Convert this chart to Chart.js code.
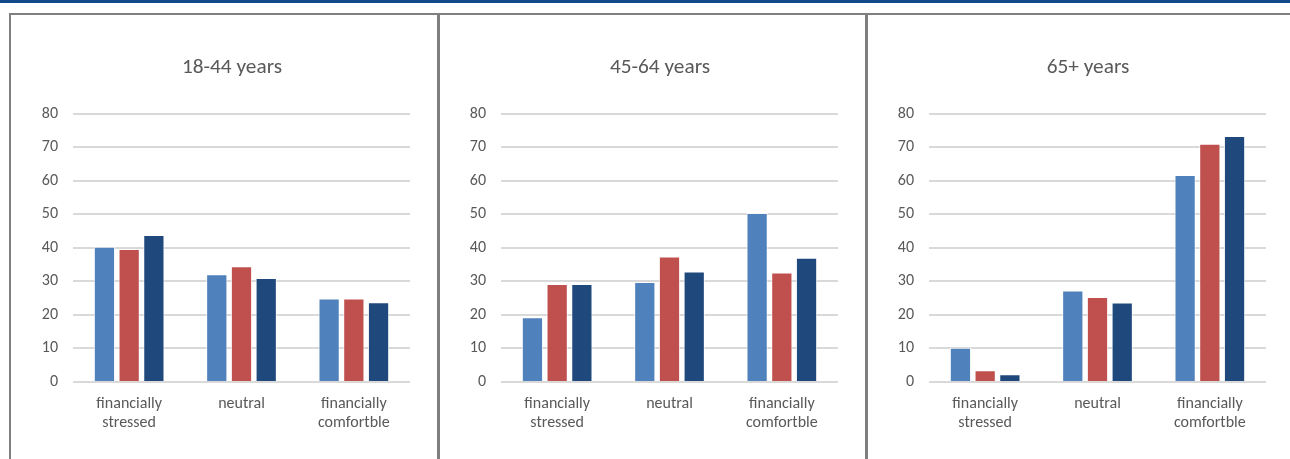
<!DOCTYPE html>
<html>
<head>
<meta charset="utf-8">
<script src="https://cdn.jsdelivr.net/npm/chart.js@4"></script>
<style>
  body { margin: 0; background: #fff; width: 1290px; height: 459px; overflow: hidden; position: relative; }
  #topbar { position: absolute; left: 0; top: 0; width: 1290px; height: 3px; background: #114a8b; }
  .panel { position: absolute; top: 13px; width: 427px; height: 460px; border: 2px solid #7f7f7f; box-sizing: content-box; }
  .panel canvas { position: absolute; left: 0; top: 1px; }
</style>
</head>
<body>
<div id="topbar"></div>
<div class="panel" style="left:9px"><canvas id="g1" width="427" height="444"></canvas></div>
<div class="panel" style="left:437px"><canvas id="g2" width="427" height="444"></canvas></div>
<div class="panel" style="left:865px"><canvas id="g3" width="427" height="444"></canvas></div>
<script>
const categorias = [["financially", "stressed"], "neutral", ["financially", "comfortble"]];
const titulos = ["18-44 years", "45-64 years", "65+ years"];

// one array per series, per age group
const azul1 = [40.3, 32.1, 24.9];
const vermelho1 = [39.6, 34.5, 24.9];
const escuro1 = [43.8, 31.0, 23.8];

const azul2 = [19.3, 29.8, 50.4];
const vermelho2 = [29.2, 37.4, 32.6];
const escuro2 = [29.2, 32.9, 37.0];

const azul3 = [10.2, 27.3, 61.7];
const vermelho3 = [3.5, 25.3, 71.0];
const escuro3 = [2.3, 23.7, 73.3];

const cores = ["#4f81bd", "#c0504d", "#1f497d"];
const fonte = "Carlito, Lato, 'Open Sans', sans-serif";

// title sits a bit right of the canvas centre in the original
const deslocaTitulo = {
  id: "deslocaTitulo",
  afterLayout(chart) {
    if (chart.titleBlock) chart.titleBlock.left += 43;
  },
};

function criarGrafico(id, titulo, series) {
  const ctx = document.getElementById(id);
  new Chart(ctx, {
    type: "bar",
    data: {
      labels: categorias,
      datasets: series.map((valores, i) => ({
        data: valores,
        backgroundColor: cores[i],
        borderColor: "rgba(255,255,255,0.8)",
        borderWidth: 1,
        categoryPercentage: 0.66,
        barPercentage: 0.86,
      })),
    },
    plugins: [deslocaTitulo],
    options: {
      responsive: false,
      animation: false,
      layout: { padding: { left: 0, right: 28, top: 0, bottom: 0 } },
      plugins: {
        legend: { display: false },
        tooltip: { enabled: false },
        title: {
          display: true,
          text: titulo,
          color: "#595959",
          font: { family: fonte, size: 21.3, weight: "normal", lineHeight: 1.2 },
          padding: { top: 39, bottom: 33 },
        },
      },
      scales: {
        x: {
          grid: { display: false },
          border: { display: false },
          ticks: {
            color: "#595959",
            font: { family: fonte, size: 16, lineHeight: 1.2 },
            padding: 4,
            maxRotation: 0,
          },
          afterFit: (scale) => { scale.height = 78; },
        },
        y: {
          min: 0,
          max: 80,
          border: { display: false },
          grid: { color: "#d9d9d9", lineWidth: 2, drawTicks: false },
          ticks: {
            stepSize: 10,
            color: "#595959",
            font: { family: fonte, size: 16 },
            padding: 15,
          },
          afterFit: (scale) => { scale.width = 62; },
        },
      },
    },
  });
}

criarGrafico("g1", titulos[0], [azul1, vermelho1, escuro1]);
criarGrafico("g2", titulos[1], [azul2, vermelho2, escuro2]);
criarGrafico("g3", titulos[2], [azul3, vermelho3, escuro3]);
</script>
</body>
</html>
